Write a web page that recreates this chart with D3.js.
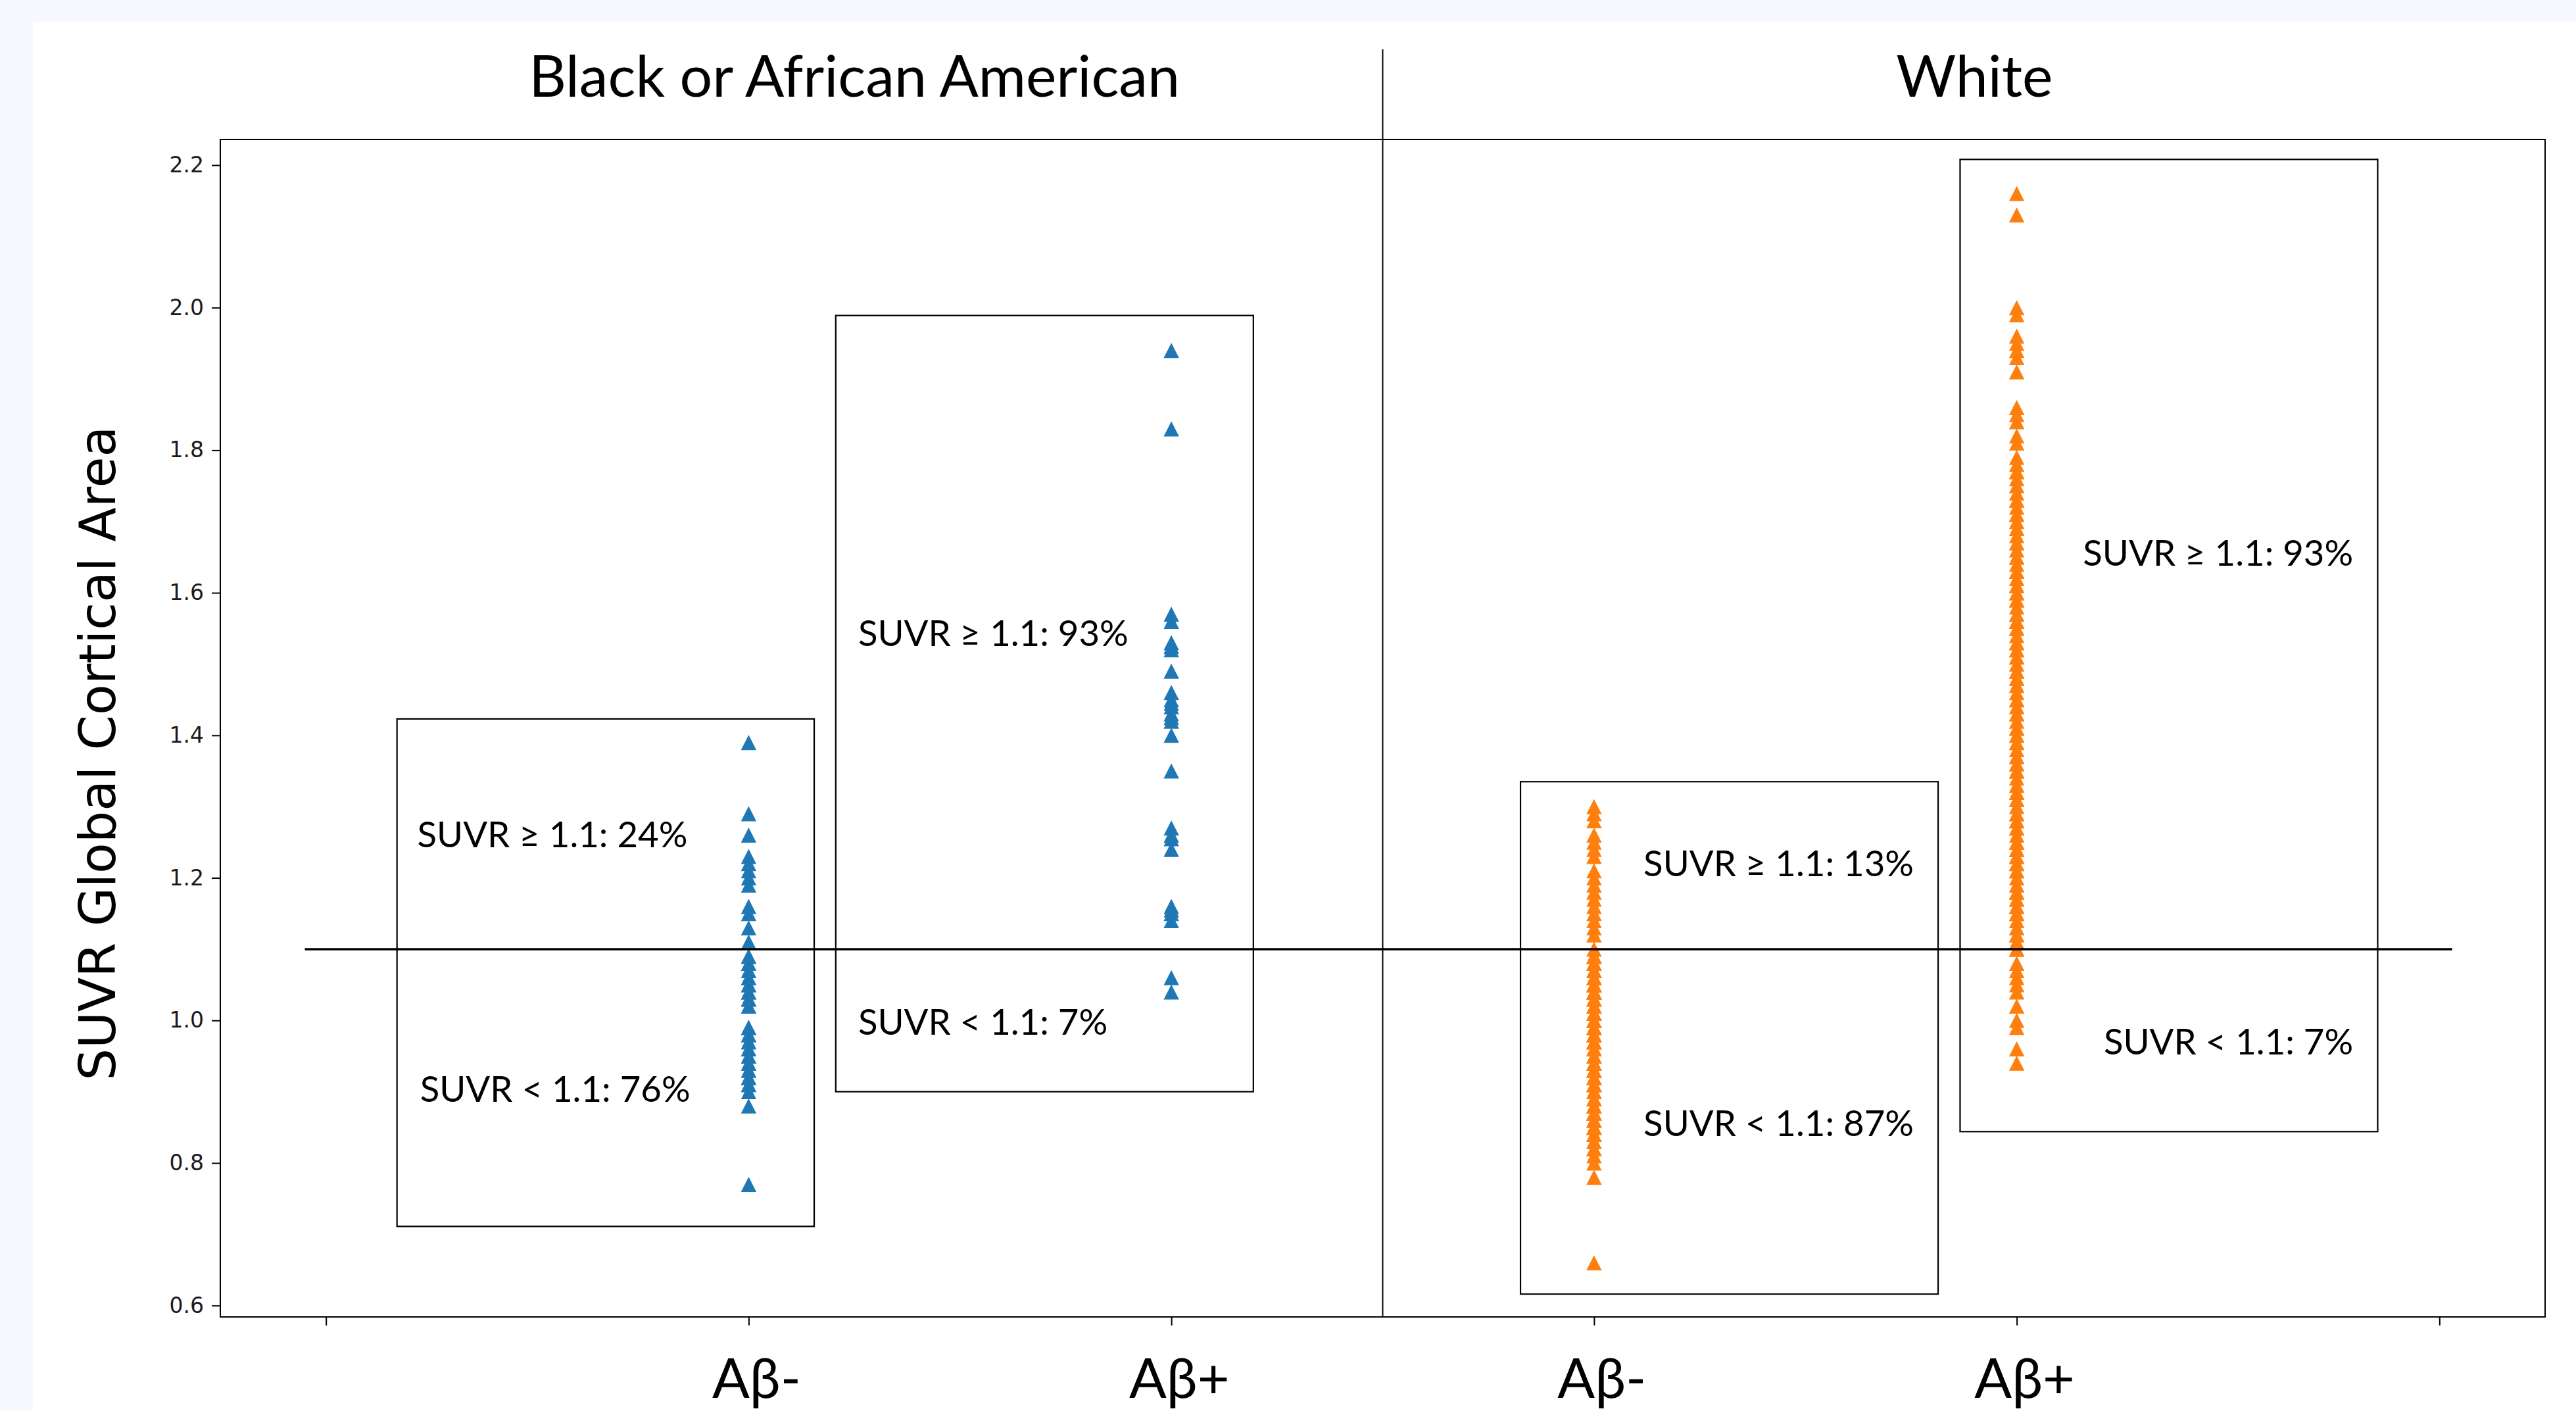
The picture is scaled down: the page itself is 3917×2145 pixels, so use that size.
<!DOCTYPE html>
<html>
<head>
<meta charset="utf-8">
<script src="https://cdn.jsdelivr.net/npm/d3@7"></script>
<style>
  body { margin: 0; background: #f6f9fd; }
  svg { display: block; }
</style>
</head>
<body>
<div id="chart"></div>
<script>
// 数据
const groupNames = ["Black or African American", "White"];
const groupTitleX = [1.25, 3.9];
const tickValuesX = [0, 1, 2, 3, 4, 5];
const tickLabels = ["", "Aβ-", "Aβ+", "Aβ-", "Aβ+", ""];
const tickValuesY = [0.6, 0.8, 1.0, 1.2, 1.4, 1.6, 1.8, 2.0, 2.2];
const seriesX = [1, 2, 3, 4];
const seriesColors = ["#1f77b4", "#1f77b4", "#ff7f0e", "#ff7f0e"];
const refValue = 1.1;
const refExtent = [-0.05, 5.03];
const dividerX = 2.5;

// Black or African American, Aβ-
const blackNeg = [
  1.39, 1.29, 1.26, 1.23, 1.22, 1.21, 1.20, 1.19, 1.16, 1.15, 1.13, 1.11,
  1.09, 1.09, 1.08, 1.08, 1.07, 1.07, 1.06, 1.06, 1.05, 1.05, 1.04, 1.04,
  1.03, 1.03, 1.03, 1.02, 1.02,
  0.99, 0.99, 0.98, 0.98, 0.97, 0.97, 0.96, 0.96, 0.95, 0.95, 0.94, 0.94,
  0.93, 0.93, 0.92, 0.92, 0.91, 0.91, 0.90,
  0.88, 0.77
];

// Black or African American, Aβ+
const blackPos = [
  1.94, 1.83, 1.57, 1.56, 1.53, 1.525, 1.52, 1.49,
  1.46, 1.45, 1.445, 1.44, 1.43, 1.425, 1.42, 1.40, 1.35,
  1.27, 1.26, 1.255, 1.24, 1.16, 1.155, 1.15, 1.14,
  1.06, 1.04
];

// White, Aβ-
const whiteNeg = [
  1.30, 1.29, 1.28, 1.26, 1.25, 1.24, 1.23, 1.21, 1.20, 1.19, 1.18, 1.17,
  1.16, 1.15, 1.14, 1.13, 1.12, 1.10,
  1.09, 1.09, 1.09, 1.09, 1.09, 1.08, 1.08, 1.08, 1.08, 1.08,
  1.07, 1.07, 1.07, 1.07, 1.06, 1.06, 1.06, 1.06, 1.06,
  1.05, 1.05, 1.05, 1.05, 1.04, 1.04, 1.04, 1.04, 1.04,
  1.03, 1.03, 1.03, 1.03, 1.02, 1.02, 1.02, 1.02,
  1.01, 1.01, 1.01, 1.01, 1.01, 1.00, 1.00, 1.00, 1.00,
  0.99, 0.99, 0.99, 0.99, 0.99, 0.98, 0.98, 0.98, 0.98,
  0.97, 0.97, 0.97, 0.97, 0.96, 0.96, 0.96, 0.96, 0.96,
  0.95, 0.95, 0.95, 0.95, 0.94, 0.94, 0.94, 0.94,
  0.93, 0.93, 0.93, 0.93, 0.93, 0.92, 0.92, 0.92, 0.92,
  0.91, 0.91, 0.91, 0.91, 0.90, 0.90, 0.90, 0.90,
  0.89, 0.89, 0.89, 0.89, 0.88, 0.88, 0.88, 0.88,
  0.87, 0.87, 0.87, 0.87, 0.86, 0.86, 0.86,
  0.85, 0.85, 0.85, 0.85, 0.84, 0.84, 0.84, 0.83, 0.83, 0.83,
  0.82, 0.82, 0.82, 0.81, 0.80, 0.78, 0.66
];

// White, Aβ+
const whitePos = [
  2.16, 2.13, 2.00, 1.99, 1.96, 1.95, 1.94, 1.93, 1.91,
  1.86, 1.85, 1.84, 1.82, 1.81, 1.79,
  1.78, 1.77, 1.77, 1.76, 1.75, 1.75, 1.74, 1.73, 1.73, 1.72, 1.71, 1.71,
  1.70, 1.69, 1.69, 1.68, 1.67, 1.67, 1.66, 1.65, 1.65, 1.64, 1.63, 1.63,
  1.62, 1.61, 1.61, 1.60, 1.60, 1.59, 1.59, 1.58, 1.57, 1.57, 1.56, 1.56,
  1.55, 1.55, 1.54, 1.53, 1.53, 1.52, 1.52, 1.51, 1.51, 1.50,
  1.49, 1.49, 1.48, 1.48, 1.47, 1.47, 1.46, 1.45, 1.45, 1.44, 1.44,
  1.43, 1.43, 1.42, 1.41, 1.41, 1.40, 1.40, 1.39, 1.39, 1.38,
  1.37, 1.37, 1.36, 1.36, 1.35, 1.35, 1.34, 1.33, 1.33, 1.32, 1.32,
  1.31, 1.31, 1.30, 1.29, 1.29, 1.28, 1.28, 1.27, 1.27, 1.26,
  1.25, 1.25, 1.24, 1.24, 1.23, 1.23, 1.22, 1.22, 1.21, 1.21, 1.20,
  1.19, 1.19, 1.18, 1.18, 1.17, 1.17, 1.16, 1.16, 1.15, 1.15, 1.14,
  1.13, 1.13, 1.12, 1.12, 1.11, 1.11, 1.10, 1.10,
  1.08, 1.07, 1.06, 1.05, 1.04, 1.02, 1.00, 0.99, 0.96, 0.94
];

const seriesValues = [blackNeg, blackPos, whiteNeg, whitePos];

// 注释框（数据坐标）
const boxX0 = [0.168, 1.206, 2.826, 3.866];
const boxX1 = [1.155, 2.194, 3.814, 4.854];
const boxTop = [1.423, 1.989, 1.335, 2.208];
const boxBottom = [0.711, 0.900, 0.616, 0.844];

const aboveText = ["SUVR ≥ 1.1: 24%", "SUVR ≥ 1.1: 93%", "SUVR ≥ 1.1: 13%", "SUVR ≥ 1.1: 93%"];
const belowText = ["SUVR < 1.1: 76%", "SUVR < 1.1: 7%", "SUVR < 1.1: 87%", "SUVR < 1.1: 7%"];
const aboveAt = [[0.216, 1.243], [1.259, 1.525], [3.117, 1.2025], [4.796, 1.638]];
const belowAt = [[0.2225, 0.886], [1.259, 0.980], [3.117, 0.838], [4.796, 0.952]];
const textAnchor = ["start", "start", "start", "end"];

// 画布
const width = 3917;
const height = 2145;
const labelFont = "Lato, 'Open Sans', sans-serif";
const mplFont = "'DejaVu Sans', sans-serif";

const svg = d3.select("#chart")
    .append("svg")
    .attr("width", width)
    .attr("height", height);

svg.append("rect").attr("width", width).attr("height", height).attr("fill", "#f6f9fd");
svg.append("rect").attr("x", 50).attr("y", 33)
    .attr("width", width - 50).attr("height", height - 33).attr("fill", "#fff");

const x = d3.scaleLinear().domain([-0.25, 5.25]).range([335, 3870]);
const y = d3.scaleLinear().domain([0.584, 2.236]).range([2002, 212]);

// 按目标宽度求字号
function fitSize(str, family, target) {
    const t = svg.append("text").attr("font-family", family).attr("font-size", 100).text(str);
    const w = t.node().getComputedTextLength();
    t.remove();
    return 100 * target / w;
}

const titleSize = fitSize(groupNames[0], labelFont, 990);
const boxTextSize = fitSize("SUVR ≥ 1.1: 93%", labelFont, 411);
const tickTextSize = fitSize("Aβ-", labelFont, 135);
const yLabelSize = fitSize("SUVR Global Cortical Area", mplFont, 995);

// 坐标轴
const yAxis = svg.append("g")
    .attr("transform", `translate(${x.range()[0]},0)`)
    .call(d3.axisLeft(y)
        .tickValues(tickValuesY)
        .tickFormat(d3.format(".1f"))
        .tickSize(13)
        .tickPadding(12))
    .call(g => g.select(".domain").remove());
yAxis.selectAll(".tick line").attr("stroke", "#000").attr("stroke-width", 2);
yAxis.selectAll(".tick text")
    .attr("font-family", mplFont)
    .attr("font-size", 33)
    .attr("fill", "#1a1a1a");

const xAxis = svg.append("g")
    .attr("transform", `translate(0,${y.range()[0]})`)
    .call(d3.axisBottom(x)
        .tickValues(tickValuesX)
        .tickFormat("")
        .tickSize(13))
    .call(g => g.select(".domain").remove());
xAxis.selectAll(".tick line").attr("stroke", "#000").attr("stroke-width", 2);

svg.selectAll(".xlabel")
    .data(tickValuesX.filter((d, i) => tickLabels[i] !== ""))
    .enter()
    .append("text")
    .attr("class", "xlabel")
    .attr("x", d => x(d) + 12)
    .attr("y", 2125)
    .attr("text-anchor", "middle")
    .attr("font-family", labelFont)
    .attr("font-size", tickTextSize)
    .attr("fill", "#000")
    .text(d => tickLabels[d]);

// 坐标框
svg.append("rect")
    .attr("x", x.range()[0])
    .attr("y", y.range()[1])
    .attr("width", x.range()[1] - x.range()[0])
    .attr("height", y.range()[0] - y.range()[1])
    .attr("fill", "none")
    .attr("stroke", "#000")
    .attr("stroke-width", 2);

// 散点
const tri = "M0,-11.5L11.7,11.5L-11.7,11.5Z";
seriesValues.forEach((vals, i) => {
    svg.append("g")
        .selectAll("path")
        .data(vals)
        .enter()
        .append("path")
        .attr("d", tri)
        .attr("transform", d => `translate(${x(seriesX[i])},${y(d)})`)
        .attr("fill", seriesColors[i]);
});

// 注释框
svg.selectAll(".box")
    .data(seriesX)
    .enter()
    .append("rect")
    .attr("class", "box")
    .attr("x", (d, i) => x(boxX0[i]))
    .attr("y", (d, i) => y(boxTop[i]))
    .attr("width", (d, i) => x(boxX1[i]) - x(boxX0[i]))
    .attr("height", (d, i) => y(boxBottom[i]) - y(boxTop[i]))
    .attr("fill", "none")
    .attr("stroke", "#000")
    .attr("stroke-width", 2.2);

// 分隔线和阈值线
svg.append("line")
    .attr("x1", x(dividerX)).attr("x2", x(dividerX))
    .attr("y1", 75).attr("y2", y.range()[0])
    .attr("stroke", "#000").attr("stroke-width", 2);

svg.append("line")
    .attr("x1", x(refExtent[0])).attr("x2", x(refExtent[1]))
    .attr("y1", y(refValue)).attr("y2", y(refValue))
    .attr("stroke", "#000").attr("stroke-width", 3.5);

// 文字
[[aboveText, aboveAt], [belowText, belowAt]].forEach(([texts, at]) => {
    svg.append("g")
        .selectAll("text")
        .data(texts)
        .enter()
        .append("text")
        .attr("x", (d, i) => x(at[i][0]))
        .attr("y", (d, i) => y(at[i][1]))
        .attr("text-anchor", (d, i) => textAnchor[i])
        .attr("font-family", labelFont)
        .attr("font-size", boxTextSize)
        .attr("fill", "#000")
        .text(d => d);
});

svg.selectAll(".title")
    .data(groupNames)
    .enter()
    .append("text")
    .attr("class", "title")
    .attr("x", (d, i) => x(groupTitleX[i]))
    .attr("y", 147)
    .attr("text-anchor", "middle")
    .attr("font-family", labelFont)
    .attr("font-size", titleSize)
    .attr("fill", "#000")
    .text(d => d);

svg.append("text")
    .attr("transform", "translate(175,1145) rotate(-90)")
    .attr("text-anchor", "middle")
    .attr("font-family", mplFont)
    .attr("font-size", yLabelSize)
    .attr("fill", "#000")
    .text("SUVR Global Cortical Area");
</script>
</body>
</html>
